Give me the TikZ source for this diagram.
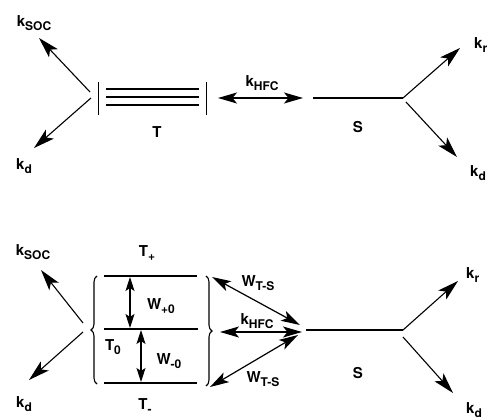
\documentclass[tikz,border=0pt]{standalone}
\usepackage{fontspec}
\setmainfont{TeX Gyre Heros}
\usetikzlibrary{arrows.meta,decorations.pathreplacing}
% lowered, smaller subscript text
\newcommand{\lowsub}[1]{\raisebox{-0.5ex}{\fontsize{12}{12}\selectfont #1}}
\tikzset{
  lbl/.style={font=\fontsize{15}{15}\selectfont\bfseries, inner sep=0pt},
  rate/.style={line width=1.1pt, -{Stealth[length=21pt,width=12pt,inset=5pt]}},
  both/.style={line width=1.2pt, {Stealth[length=19pt,width=11pt,inset=4.5pt]}-{Stealth[length=19pt,width=11pt,inset=4.5pt]}},
  smallboth/.style={line width=1.1pt, {Stealth[length=14pt,width=9pt,inset=3pt]}-{Stealth[length=14pt,width=9pt,inset=3pt]}},
  level/.style={line width=1.4pt},
  bar/.style={line width=0.9pt},
  curly/.style={line width=1.1pt, decorate, decoration={brace, amplitude=6pt}},
}
\begin{document}
\begin{tikzpicture}[x=1pt, y=-1pt]
\useasboundingbox (0,0) rectangle (488,420);

% ---------------- upper scheme: T sublevels unresolved ----------------
\coordinate (tsoc0) at (90,92);  \coordinate (tsoc1) at (39,38);
\coordinate (td0)   at (91,98);  \coordinate (td1)   at (34,148);
\draw[rate] (tsoc0) -- (tsoc1);
\draw[rate] (td0) -- (td1);
\node[lbl] (ksocA) at (34,23) {k\lowsub{SOC}};
\node[lbl] (kdA)   at (24,166) {k\lowsub{d}};

% triplet manifold between two bars
\draw[bar] (98,82) -- (98,115);
\draw[bar] (206,82) -- (206,115);
\draw[level] (106,89)  -- (199,89);
\draw[level] (106,97)  -- (199,97);
\draw[level] (106,105) -- (199,105);
\node[lbl] (TA) at (157,132) {T};

% hyperfine mixing
\coordinate (hA0) at (218,98); \coordinate (hA1) at (303,98);
\draw[both] (hA0) -- (hA1);
\node[lbl] (khfcA) at (262,83) {k\lowsub{HFC}};

% singlet level and its decay
\coordinate (sA0) at (313,98); \coordinate (sA1) at (403,98);
\draw[level] (sA0) -- (sA1);
\node[lbl] (SA) at (358,127) {S};
\coordinate (sr1) at (460,48);
\coordinate (sd0) at (406,102); \coordinate (sd1) at (457,157);
\draw[rate] (sA1) -- (sr1);
\draw[rate] (sd0) -- (sd1);
\node[lbl, anchor=west] (krA)  at (474,45)  {k\lowsub{r}};
\node[lbl, anchor=west] (kdA2) at (470,173) {k\lowsub{d}};

% ---------------- lower scheme: resolved sublevels T+, T0, T- ----------------
\coordinate (bsoc0) at (83,323); \coordinate (bsoc1) at (41,270);
\coordinate (bd0)   at (83,332); \coordinate (bd1)   at (29,380);
\draw[rate] (bsoc0) -- (bsoc1);
\draw[rate] (bd0) -- (bd1);
\node[lbl] (ksocB) at (33,252) {k\lowsub{SOC}};
\node[lbl] (kdB)   at (24,404) {k\lowsub{d}};

% braces enclosing the three sublevels
\draw[curly] (97,384) -- (97,276);
\draw[curly] (206,276) -- (206,386);

% sublevels
\draw[level] (104,276) -- (197,276);
\draw[level] (104,329) -- (198,329);
\draw[level] (104,383) -- (197,383);
\node[lbl] (Tp) at (147,253) {T\lowsub{+}};
\node[lbl] (T0) at (113,347) {T\lowsub{0}};
\node[lbl] (Tm) at (145,406) {T\lowsub{-}};

% relaxation between sublevels
\coordinate (wp0) at (130,277); \coordinate (wp1) at (130,328);
\coordinate (wm0) at (141,330); \coordinate (wm1) at (141,382);
\draw[smallboth] (wp0) -- (wp1);
\draw[smallboth] (wm0) -- (wm1);
\node[lbl] (Wp0) at (161,306) {W\lowsub{+0}};
\node[lbl] (Wm0) at (169,361) {W\lowsub{-0}};

% T-S couplings
\coordinate (ts1a) at (212,277); \coordinate (ts1b) at (300,325);
\coordinate (hB0)  at (220,332); \coordinate (hB1)  at (302,332);
\coordinate (ts2a) at (210,387); \coordinate (ts2b) at (298,335);
\draw[both] (ts1a) -- (ts1b);
\draw[both] (hB0) -- (hB1);
\draw[both] (ts2a) -- (ts2b);
\node[lbl] (WtsA)  at (258,283) {W\lowsub{T-S}};
\node[lbl] (khfcB) at (257,321) {k\lowsub{HFC}};
\node[lbl] (WtsB)  at (263,379) {W\lowsub{T-S}};

% singlet level and its decay
\coordinate (sB0) at (306,330); \coordinate (sB1) at (403,330);
\draw[level] (sB0) -- (sB1);
\node[lbl] (SB) at (358,373) {S};
\coordinate (br1) at (458,281);
\coordinate (bdd0) at (403,337); \coordinate (bdd1) at (453,393);
\draw[rate] (sB1) -- (br1);
\draw[rate] (bdd0) -- (bdd1);
\node[lbl, anchor=west] (krB)  at (466,275) {k\lowsub{r}};
\node[lbl, anchor=west] (kdB2) at (466,410) {k\lowsub{d}};
\end{tikzpicture}
\end{document}
